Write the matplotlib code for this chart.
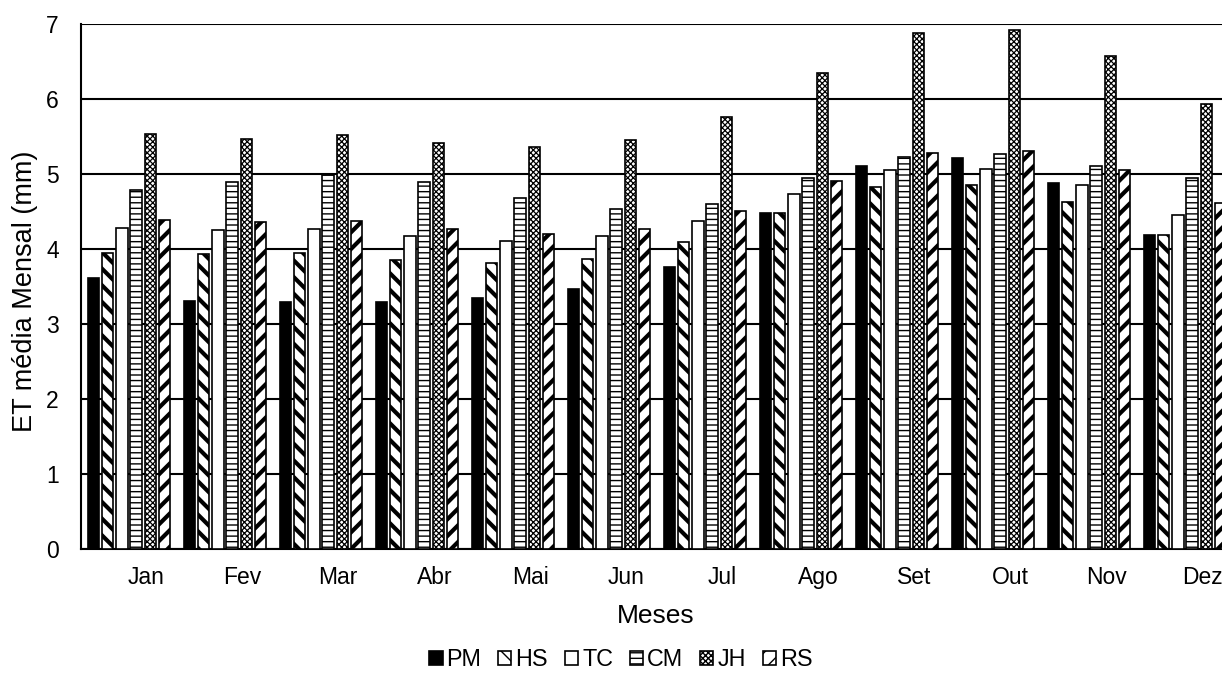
import matplotlib.pyplot as plt
import numpy as np

plt.rcParams['font.family'] = ['Liberation Sans', 'DejaVu Sans']

months = ["Jan", "Fev", "Mar", "Abr", "Mai", "Jun", "Jul", "Ago", "Set", "Out", "Nov", "Dez"]

PM = [3.61, 3.31, 3.30, 3.30, 3.35, 3.47, 3.76, 4.48, 5.11, 5.21, 4.88, 4.19]
HS = [3.95, 3.93, 3.95, 3.86, 3.81, 3.87, 4.09, 4.48, 4.83, 4.86, 4.63, 4.19]
TC = [4.28, 4.25, 4.27, 4.18, 4.11, 4.18, 4.38, 4.73, 5.05, 5.07, 4.86, 4.46]
CM = [4.79, 4.89, 4.99, 4.89, 4.68, 4.53, 4.60, 4.95, 5.23, 5.27, 5.11, 4.94]
JH = [5.53, 5.47, 5.52, 5.42, 5.36, 5.46, 5.76, 6.35, 6.88, 6.92, 6.58, 5.93]
RS = [4.39, 4.36, 4.38, 4.27, 4.20, 4.27, 4.51, 4.91, 5.28, 5.31, 5.06, 4.61]

series = [("PM", PM), ("HS", HS), ("TC", TC), ("CM", CM), ("JH", JH), ("RS", RS)]
# (facecolor, hatch, hatch linewidth)
styles = {
    "PM": ("black", None, 1.0),
    "HS": ("white", "\\\\", 3.0),
    "TC": ("white", None, 1.0),
    "CM": ("white", "---", 1.0),
    "JH": ("white", "xxxxxx", 0.9),
    "RS": ("white", "//", 3.0),
}

fig = plt.figure(figsize=(12.22, 6.93), dpi=100)
ax = fig.add_axes([81/1222, 144/693, 1152/1222, 525/693])

x = np.arange(len(months))
step = 0.146
width = 0.115
for i, (name, vals) in enumerate(series):
    fc, hatch, hlw = styles[name]
    with plt.rc_context({'hatch.linewidth': hlw}):
        bars = ax.bar(x + (i - 2.5) * step, vals, width, color=fc, edgecolor="black",
                      linewidth=1.2, hatch=hatch, label=name, zorder=3)
        for b in bars:
            if hasattr(b, "set_hatch_linewidth"):
                b.set_hatch_linewidth(hlw)

ax.set_ylim(0, 7)
ax.set_xlim(-0.5, 11.5)
ax.set_yticks(range(8))
ax.yaxis.grid(True, color="black", linewidth=1.5, zorder=0)
ax.set_axisbelow(True)
ax.set_xticks(x + 0.18)
ax.set_xticklabels(months)
ax.tick_params(axis="both", length=0, labelsize=16.5)
ax.tick_params(axis="y", pad=16)
ax.tick_params(axis="x", pad=12)
for s in ["top", "right"]:
    ax.spines[s].set_visible(False)
ax.spines["left"].set_linewidth(1.5)
ax.spines["bottom"].set_linewidth(1.5)

fig.text(25/1222, 1 - 291/693, "ET média Mensal (mm)", fontsize=19.5, rotation=90,
         ha="center", va="center")
fig.text(656/1222, 1 - 616/693, "Meses", fontsize=19, ha="center", va="center")

fig.legend(loc="center", bbox_to_anchor=(621/1222, 1 - 660/693), ncol=6, frameon=False,
           fontsize=16.8, handlelength=0.56, handleheight=0.56, handletextpad=0.17,
           columnspacing=0.73)

fig.savefig("out.png", dpi=100)
